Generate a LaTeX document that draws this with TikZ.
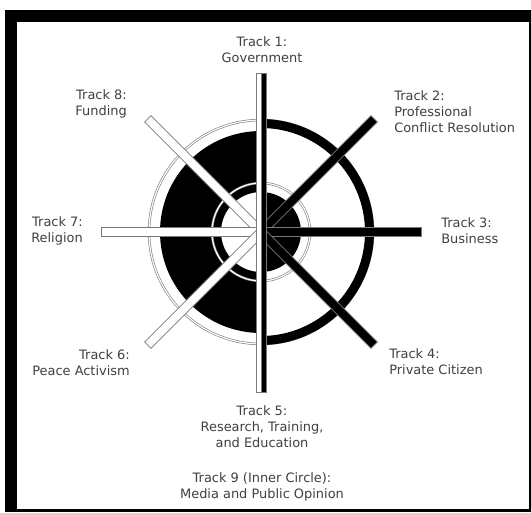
\documentclass[tikz,border=0pt]{standalone}
\usepackage{fontspec}
\newfontfamily\trackfont{DejaVu Sans}
\usetikzlibrary{positioning}
\definecolor{labelgray}{HTML}{404040}
\definecolor{rimgray}{HTML}{7A7A7A}

\begin{document}
\begin{tikzpicture}[
    x=0.75pt, y=0.75pt,
    tracklabel/.style={font=\trackfont\fontsize{9.7}{12}\selectfont, text=labelgray, inner sep=0pt},
    thinring/.style={draw=rimgray, line width=0.45pt, double=white, double distance=0.9pt},
    whitebar/.style={fill=white, draw=rimgray, line width=0.55pt},
    blackbar/.style={fill=black, draw=rimgray, line width=0.5pt},
  ]

  % ── Frame ──
  \useasboundingbox (0,0) rectangle (531,512);
  \fill[black] (5,0) rectangle (531,502);
  \fill[white] (17,3) rectangle (529,490);

  \coordinate (c) at (261,280);

  % ── Rings ──
  \draw[thinring] (c) circle[radius=112];
  \fill[black] (c) ++(0,101) arc[start angle=90, end angle=270, radius=101]
    -- ++(0,61) arc[start angle=270, end angle=90, radius=40] -- cycle;
  \fill[black] (c) ++(0,113) arc[start angle=90, end angle=-90, radius=113]
    -- ++(0,9) arc[start angle=-90, end angle=90, radius=104] -- cycle;
  \fill[black] (c) ++(0,40) arc[start angle=90, end angle=-90, radius=40] -- cycle;
  \draw[thinring] (c) circle[radius=49];

  % ── Spokes ──
  \foreach \ang in {135, 180, 225}
    \draw[whitebar, shift={(c)}, rotate=\ang] (0,-4.5) rectangle (160,4.5);
  \foreach \ang in {45, 0, -45}
    \draw[blackbar, shift={(c)}, rotate=\ang] (0,-4.5) rectangle (160,4.5);
  \draw[whitebar, shift={(c)}] (-5,-160) rectangle (0,159);
  \draw[blackbar, shift={(c)}] (0,-160) rectangle (5,159);

  % ── Track labels ──
  \node[tracklabel, align=center] (track1) at (262,462) {Track 1:\\Government};
  \node[tracklabel, align=left, anchor=west] (track2) at (394,400) {Track 2:\\Professional\\Conflict Resolution};
  \node[tracklabel, align=left, anchor=west] (track3) at (441,281) {Track 3:\\Business};
  \node[tracklabel, align=left, anchor=west] (track4) at (389,150) {Track 4:\\Private Citizen};
  \node[tracklabel, align=center] (track5) at (262,85) {Track 5:\\Research, Training,\\and Education};
  \node[tracklabel, align=right, anchor=east] (track6) at (130,149) {Track 6:\\Peace Activism};
  \node[tracklabel, align=right, anchor=east] (track7) at (83,281) {Track 7:\\Religion};
  \node[tracklabel, align=right, anchor=east] (track8) at (127,408) {Track 8:\\Funding};
  \node[tracklabel, align=center, below=18pt of track5] (track9) {Track 9 (Inner Circle):\\Media and Public Opinion};

\end{tikzpicture}
\end{document}
